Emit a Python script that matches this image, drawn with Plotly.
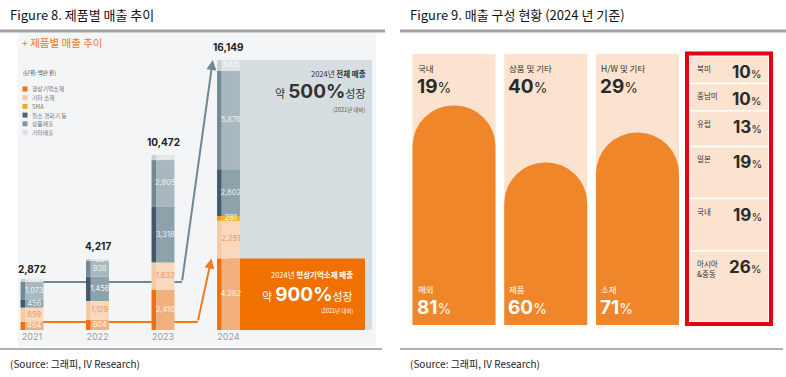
import plotly.graph_objects as go

W, H = 786, 377
def px(x): return x / W
def py(y): return 1 - y / H

# ---------------- data ----------------
years = ["2021", "2022", "2023", "2024"]
series_names = ["형상기억소재", "기타 소재", "SMA", "질소 경화기 등", "상품매출", "기타매출"]
shape_memory = [484, 604, 2410, 4282]
other_material = [859, 1129, 1632, 2251]
sma = [0, 0, 0, 281]
curing = [456, 1456, 3318, 2802]
goods = [1073, 938, 2805, 5876]
other_sales = [190, 65, 307, 646]
totals = [2872, 4217, 10472, 16149]

card_top_labels = ["국내", "상품 및 기타", "H/W 및 기타"]
card_top_pct = [19, 40, 29]
card_bottom_labels = ["해외", "제품", "소재"]
card_bottom_pct = [81, 60, 71]

regions = ["북미", "중남미", "유럽", "일본", "국내", "아시아<br>&중동"]
region_pct = [10, 10, 13, 19, 19, 26]

# ---------------- styles ----------------
KR = "Noto Sans CJK KR"
NUM = "Inter, Noto Sans CJK KR"
face_colors = ["#f2b07c", "#fad8bd", "#f6b52e", "#8ea2ac", "#a9b8bf", "#dfe4e6"]
strip_colors = ["#f07010", "#f6c9a5", "#f0a000", "#3f5a68", "#718a95", "#c8d0d4"]
legend_colors = ["#f07010", "#f9c8a0", "#f5a81c", "#4b6573", "#80959f", "#dde1e4"]
label_colors = ["#fff3ea", "#e8955a", "#ffffff", "#eef2f4", "#eef2f4", "#f4f6f7"]
GRAY_LINE = "#6f8894"
ORANGE = "#f07000"
PEACH = "#fce3cf"

fig = go.Figure()

# ---------------- Figure 8 ----------------
n = len(years)
xs = list(range(n))
BW, SW = 0.35, 0.07
series = [shape_memory, other_material, sma, curing, goods, other_sales]

fig.add_trace(go.Bar(x=[xs[-1]], y=[totals[-1]], offset=0, width=2.19,
                     marker=dict(color="#d7dee1", line_width=0), xaxis="x", yaxis="y",
                     hoverinfo="skip"))
fig.add_trace(go.Bar(x=[xs[-1]], y=[shape_memory[-1]], offset=0, width=2.084,
                     marker=dict(color=ORANGE, line_width=0), xaxis="x", yaxis="y",
                     hoverinfo="skip"))

fig.add_trace(go.Scatter(x=[xs[0], 2.29], y=[totals[0], totals[0]], mode="lines",
                         line=dict(color=GRAY_LINE, width=2), zorder=-1,
                         xaxis="x", yaxis="y", hoverinfo="skip"))
fig.add_trace(go.Scatter(x=[xs[0], 2.53], y=[shape_memory[0], shape_memory[0]], mode="lines",
                         line=dict(color="#f07a20", width=2), zorder=-1,
                         xaxis="x", yaxis="y", hoverinfo="skip"))

cum = [0] * n
for k, vals in enumerate(series):
    base = cum[:]
    fig.add_trace(go.Bar(x=xs, y=vals, base=base, offset=-BW / 2 + SW, width=BW - SW,
                         marker=dict(color=face_colors[k], line_width=0),
                         xaxis="x", yaxis="y", hoverinfo="skip"))
    fig.add_trace(go.Bar(x=xs, y=vals, base=base, offset=-BW / 2, width=SW,
                         marker=dict(color=strip_colors[k], line_width=0),
                         xaxis="x", yaxis="y", hoverinfo="skip"))
    fig.add_trace(go.Scatter(x=[i + SW / 2 for i in xs],
                             y=[base[i] + vals[i] / 2 for i in xs],
                             text=[f"{v:,}" if v > 0 else "" for v in vals],
                             mode="text", textposition="middle center",
                             textfont=dict(size=7.5, color=label_colors[k], family=NUM),
                             xaxis="x", yaxis="y", hoverinfo="skip", cliponaxis=False))
    cum = [c + v for c, v in zip(cum, vals)]

annotations = []
shapes = []

def pa(x, y, text, size, color, xanchor="left", family=KR, **kw):
    d = dict(x=px(x), y=py(y), xref="paper", yref="paper", xanchor=xanchor,
             yanchor="middle", text=text, showarrow=False,
             font=dict(size=size, color=color, family=family))
    d.update(kw)
    return d

for i, t in enumerate(totals):
    annotations.append(dict(x=xs[i], y=t, xref="x", yref="y", text=f"<b>{t:,}</b>",
                            showarrow=False, yanchor="bottom", yshift=5,
                            font=dict(size=10, color="#222", family=NUM)))

annotations.append(dict(x=2.76, y=totals[-1], ax=2.29, ay=totals[0], xref="x", yref="y",
                        axref="x", ayref="y", text="", showarrow=True, arrowhead=2,
                        arrowsize=1, arrowwidth=2, arrowcolor=GRAY_LINE, standoff=0))
annotations.append(dict(x=2.74, y=shape_memory[-1], ax=2.53, ay=shape_memory[0], xref="x",
                        yref="y", axref="x", ayref="y", text="", showarrow=True, arrowhead=2,
                        arrowsize=1, arrowwidth=2, arrowcolor="#f07a20", standoff=0))

shapes.append(dict(type="rect", xref="paper", yref="paper", x0=px(18), x1=px(376),
                   y0=py(347), y1=py(33), fillcolor="#f4f5f7", line_width=0, layer="below"))

annotations.append(pa(20, 43, "+ 제품별 매출 추이", 10.5, "#f07a1a"))
annotations.append(pa(21, 73, "(단위: 백만 원)", 5.5, "#444"))
for k, name in enumerate(series_names):
    yc = 89 + k * 8.7
    shapes.append(dict(type="rect", xref="paper", yref="paper", x0=px(22.5), x1=px(27.5),
                       y0=py(yc + 2.5), y1=py(yc - 2.5), fillcolor=legend_colors[k],
                       line_width=0))
    annotations.append(pa(29.5, yc, name, 5.8, "#777"))

annotations += [
    pa(368, 73, "2024년 <b>전체 매출</b>", 7.5, "#333", xanchor="right"),
    pa(368, 92, "약 <b><span style='font-size:19px'>500%</span></b>성장", 11, "#333",
       xanchor="right", family=NUM),
    pa(367, 110, "(2021년 대비)", 5.5, "#555", xanchor="right"),
    pa(355, 274, "2024년 <b>형상기억소재 매출</b>", 7.5, "white", xanchor="right"),
    pa(355, 294, "약 <b><span style='font-size:19px'>900%</span></b>성장", 11, "white",
       xanchor="right", family=NUM),
    pa(355, 311, "(2021년 대비)", 5.5, "white", xanchor="right"),
]

# ---------------- Figure 9 ----------------
CW = 0.9046
EXT = 25  # rounded bottom end is pushed below the axis and clipped away
cx = list(range(len(card_top_labels)))
fig.add_trace(go.Bar(x=cx, y=[100] * len(cx), width=CW,
                     marker=dict(color=PEACH, line_width=0), xaxis="x2", yaxis="y2",
                     hoverinfo="skip"))
fig.add_trace(go.Bar(x=cx, y=[p + EXT for p in card_bottom_pct], base=[-EXT] * len(cx),
                     width=CW, cliponaxis=True,
                     marker=dict(color="#f0862a", line_width=0, cornerradius="50%"),
                     xaxis="x2", yaxis="y2", hoverinfo="skip"))

for i in cx:
    annotations += [
        dict(x=i - CW / 2, y=100, xref="x2", yref="y2", xanchor="left", yanchor="middle",
             xshift=3, yshift=-14, text=card_top_labels[i], showarrow=False,
             font=dict(size=8.5, color="#333", family=KR)),
        dict(x=i - CW / 2, y=100, xref="x2", yref="y2", xanchor="left", yanchor="middle",
             xshift=2, yshift=-32,
             text=f"<b>{card_top_pct[i]}</b><span style='font-size:14px'>%</span>",
             showarrow=False, font=dict(size=19, color="#2a2a2a", family=NUM)),
        dict(x=i - CW / 2, y=0, xref="x2", yref="y2", xanchor="left", yanchor="middle",
             xshift=3, yshift=36, text=card_bottom_labels[i], showarrow=False,
             font=dict(size=8.5, color="white", family=KR)),
        dict(x=i - CW / 2, y=0, xref="x2", yref="y2", xanchor="left", yanchor="middle",
             xshift=2, yshift=18,
             text=f"<b>{card_bottom_pct[i]}</b><span style='font-size:14px'>%</span>",
             showarrow=False, font=dict(size=19, color="white", family=NUM)),
    ]

rc = 0
for k, v in enumerate(region_pct):
    fig.add_trace(go.Bar(x=[0], y=[v], base=[rc], width=1,
                         marker=dict(color=PEACH, line=dict(color="white", width=1.5)),
                         xaxis="x3", yaxis="y3", hoverinfo="skip"))
    annotations += [
        dict(x=-0.5, y=rc, xref="x3", yref="y3", xanchor="left", yanchor="top",
             xshift=6, yshift=-5, text=regions[k], showarrow=False, align="left",
             font=dict(size=7.5, color="#333", family=KR)),
        dict(x=0.5, y=rc, xref="x3", yref="y3", xanchor="right", yanchor="middle",
             xshift=-5, yshift=-16,
             text=f"<b>{v}</b><span style='font-size:11px'>%</span>", showarrow=False,
             font=dict(size=17, color="#2a2a2a", family=NUM)),
    ]
    rc += v

shapes.append(dict(type="rect", xref="paper", yref="paper", x0=px(687), x1=px(771),
                   y0=py(324), y1=py(53.5), line=dict(color="#e60012", width=4)))

# ---------------- titles, rules, sources ----------------
annotations += [
    pa(8, 15, "Figure 8. 제품별 매출 추이", 13, "#111"),
    pa(408, 15, "Figure 9. 매출 구성 현황 (2024 년 기준)", 13, "#111"),
    pa(8, 363, "(Source: 그래피, IV Research)", 10, "#222"),
    pa(408, 363, "(Source: 그래피, IV Research)", 10, "#222"),
]
for x0, x1 in [(0, 385), (400, 786)]:
    shapes.append(dict(type="line", xref="paper", yref="paper", x0=px(x0), x1=px(x1),
                       y0=py(31), y1=py(31), line=dict(color="#a0a0a0", width=3)))
    shapes.append(dict(type="line", xref="paper", yref="paper", x0=px(x0), x1=px(x1 - 3),
                       y0=py(349), y1=py(349), line=dict(color="#b0b0b0", width=2)))

STEP = 65.5
fig.update_layout(
    width=W, height=H, margin=dict(l=0, r=0, t=0, b=0),
    paper_bgcolor="white", plot_bgcolor="rgba(0,0,0,0)",
    barmode="overlay", showlegend=False, font=dict(family=KR),
    annotations=annotations, shapes=shapes,
    xaxis=dict(domain=[px(18), px(385)], range=[(18 - 32) / STEP, (385 - 32) / STEP],
               tickvals=xs, ticktext=years, showgrid=False, zeroline=False, showline=False,
               ticks="", tickfont=dict(size=9, color="#9b9b9b", family=NUM), fixedrange=True),
    yaxis=dict(domain=[py(330), py(33)], range=[0, 297 * 16149 / 270], visible=False,
               fixedrange=True),
    xaxis2=dict(domain=[px(412), px(679)], range=[(412 - 454) / 91.75, (679 - 454) / 91.75],
                visible=False, anchor="y2"),
    yaxis2=dict(domain=[py(325), py(54)], range=[0, 100], visible=False, anchor="x2"),
    xaxis3=dict(domain=[px(689), px(769)], range=[-0.5, 0.5], visible=False, anchor="y3"),
    yaxis3=dict(domain=[py(322), py(56)], range=[sum(region_pct), 0], visible=False,
                anchor="x3"),
)

fig.write_html("out.html", config={"displayModeBar": False},
               post_script="document.body.style.margin='0';document.body.style.overflow='hidden';")
